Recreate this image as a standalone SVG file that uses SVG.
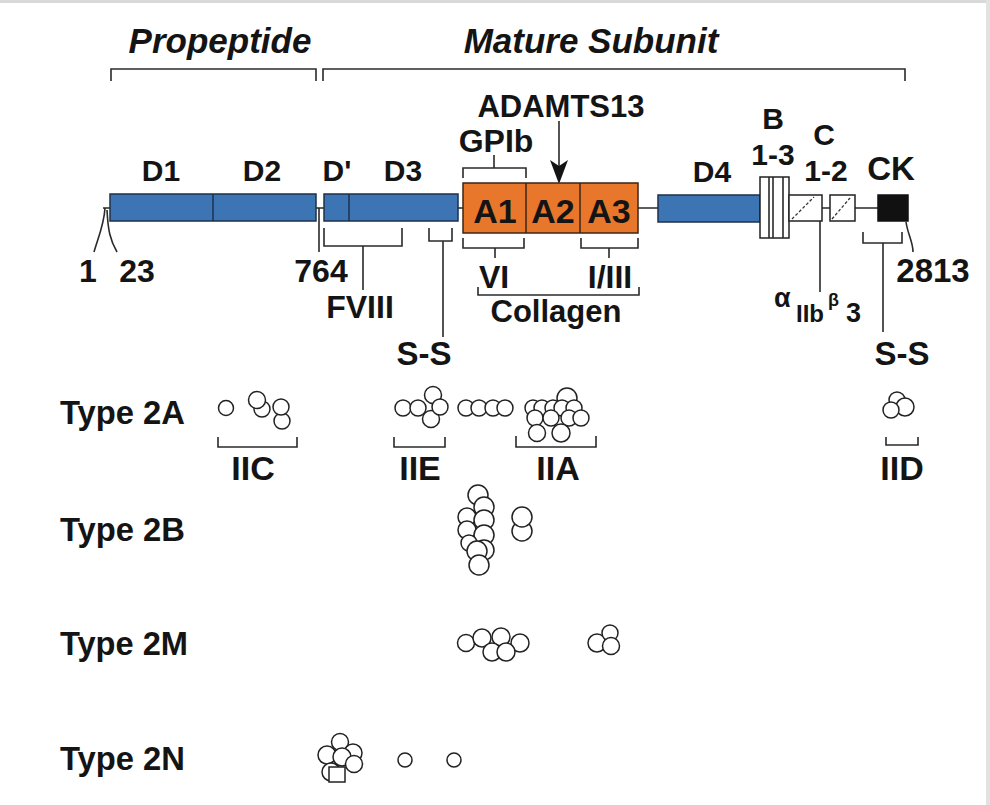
<svg xmlns="http://www.w3.org/2000/svg" width="990" height="805" viewBox="0 0 990 805">
<style>
text{font-family:"Liberation Sans",Arial,sans-serif;font-weight:bold;fill:#141414}
.m{text-anchor:middle}
.ln{stroke:#2a2a2a;stroke-width:1.6;fill:none}
.bar{fill:#3d74b4;stroke:#1e3148;stroke-width:1.5}
.a{fill:#e8772b;stroke:#3b2616;stroke-width:1.5}
.wb{fill:#fff;stroke:#222;stroke-width:1.5}
.c{fill:#fff;stroke:#222;stroke-width:1.5}
</style>
<rect x="0" y="0" width="990" height="805" fill="#fff"/>
<rect x="0" y="0" width="990" height="3" fill="#d9d9d9"/>
<rect x="986" y="0" width="4" height="805" fill="#e2e2e2"/>

<g id="headers">
<text x="220" y="53" class="m" font-size="35" font-style="italic">Propeptide</text>
<text x="591" y="53" class="m" font-size="35" font-style="italic">Mature Subunit</text>
</g>

<g id="connectors">
<path class="ln" d="M111,81 V69 H316 V81"/>
<path class="ln" d="M323,81 V69 H905 V81"/>
<path class="ln" d="M103,208 H110 M316,208 H324 M458,208 H463 M638,208 H658 M822,208 H830 M855,208 H878"/>
<path class="ln" d="M105,208 C104,225 98,238 94,252"/>
<path class="ln" d="M107,210 C108,230 110,240 117,252"/>
<path class="ln" d="M319,208 V252"/>
<path class="ln" d="M324,228 V246 H402 V228 M363,246 V290"/>
<path class="ln" d="M429,228 V241 H452 V228 M443,241 V337"/>
<path class="ln" d="M463,178 V168 H526 V178 M494,168 V155"/>
<path class="ln" d="M463,238 V248 H524 V238 M495,248 V258"/>
<path class="ln" d="M581,238 V248 H638 V238 M609,248 V258"/>
<path class="ln" d="M478,287 V295 H639 V287"/>
<path class="ln" d="M559,121 V166" stroke-width="2"/>
<polygon points="550,160 559,166 568,160 559,184" fill="#141414"/>
<path class="ln" d="M820,221 V292"/>
<path class="ln" d="M863,232 V243 H902 V232 M883,243 V332"/>
<path class="ln" d="M906,222 C908,235 913,242 913,252"/>
<path class="ln" d="M218,437 V447 H297 V437"/>
<path class="ln" d="M394,437 V447 H445 V437"/>
<path class="ln" d="M516,436 V447 H596 V436"/>
<path class="ln" d="M886,437 V445 H918 V437"/>
</g>

<g id="domain-D1-D2">
<rect class="bar" x="110" y="194" width="206" height="27"/>
<line x1="213" y1="194" x2="213" y2="221" stroke="#1e3148" stroke-width="1.5"/>
<text x="161" y="181" class="m" font-size="30">D1</text>
<text x="262" y="181" class="m" font-size="30">D2</text>
</g>
<g id="domain-D-D3">
<rect class="bar" x="324" y="194" width="134" height="27"/>
<line x1="349" y1="194" x2="349" y2="221" stroke="#1e3148" stroke-width="1.5"/>
<text x="337" y="181" class="m" font-size="30">D'</text>
<text x="403" y="181" class="m" font-size="30">D3</text>
</g>
<g id="domain-A">
<rect class="a" x="463" y="183" width="175" height="50"/>
<line x1="526" y1="183" x2="526" y2="233" stroke="#3b2616" stroke-width="1.5"/>
<line x1="580" y1="183" x2="580" y2="233" stroke="#3b2616" stroke-width="1.5"/>
<text x="495" y="223" class="m" font-size="34" fill="#1e120a">A1</text>
<text x="553" y="223" class="m" font-size="34" fill="#1e120a">A2</text>
<text x="609" y="223" class="m" font-size="34" fill="#1e120a">A3</text>
</g>
<g id="domain-D4">
<rect class="bar" x="658" y="195" width="102" height="27"/>
<text x="712" y="182" class="m" font-size="30">D4</text>
</g>
<g id="domain-B">
<rect class="wb" x="760" y="177" width="29" height="61"/>
<path class="ln" d="M769,177 V238 M773,177 V238 M783,177 V238"/>
<text x="773" y="129" class="m" font-size="30">B</text>
<text x="773" y="165" class="m" font-size="30">1-3</text>
</g>
<g id="domain-C">
<rect class="wb" x="789" y="195" width="33" height="26"/>
<line x1="792" y1="219" x2="814" y2="197" stroke="#333" stroke-width="1.3" stroke-dasharray="3,2"/>
<rect class="wb" x="830" y="195" width="25" height="26"/>
<line x1="832" y1="219" x2="850" y2="198" stroke="#333" stroke-width="1.3" stroke-dasharray="3,2"/>
<text x="824" y="145" class="m" font-size="30">C</text>
<text x="826" y="181" class="m" font-size="30">1-2</text>
</g>
<g id="domain-CK">
<rect x="878" y="195" width="30" height="26" fill="#111" stroke="#111" stroke-width="1.5"/>
<text x="891" y="180" class="m" font-size="33">CK</text>
</g>

<g id="binding-labels">
<text x="561" y="117" class="m" font-size="31">ADAMTS13</text>
<text x="496" y="152" class="m" font-size="32">GPIb</text>
<text x="88" y="282" class="m" font-size="32">1</text>
<text x="137" y="282" class="m" font-size="32">23</text>
<text x="321" y="282" class="m" font-size="32">764</text>
<text x="933" y="282" class="m" font-size="33">2813</text>
<text x="360" y="318" class="m" font-size="32">FVIII</text>
<text x="494" y="288" class="m" font-size="32">VI</text>
<text x="610" y="288" class="m" font-size="32">I/III</text>
<text x="556" y="322" class="m" font-size="31">Collagen</text>
<text x="424" y="365" class="m" font-size="33">S-S</text>
<text x="902" y="365" class="m" font-size="33">S-S</text>
<text x="774" y="307" font-size="27">α</text>
<text x="796" y="322" font-size="24">IIb</text>
<text x="828" y="306" font-size="18">β</text>
<text x="846" y="322" font-size="27">3</text>
</g>

<g id="type-labels">
<text x="60" y="424" font-size="34" textLength="125" lengthAdjust="spacingAndGlyphs">Type 2A</text>
<text x="60" y="541" font-size="34" textLength="125" lengthAdjust="spacingAndGlyphs">Type 2B</text>
<text x="60" y="655" font-size="34" textLength="128" lengthAdjust="spacingAndGlyphs">Type 2M</text>
<text x="60" y="770" font-size="34" textLength="125" lengthAdjust="spacingAndGlyphs">Type 2N</text>
</g>

<g id="type2A-IIC">
<circle class="c" cx="226" cy="408" r="7.5"/>
<circle class="c" cx="262" cy="409" r="8"/>
<circle class="c" cx="257" cy="400" r="8.5"/>
<circle class="c" cx="282" cy="421" r="8"/>
<circle class="c" cx="281" cy="407" r="8"/>
<text x="253" y="480" class="m" font-size="34">IIC</text>
</g>
<g id="type2A-IIE">
<circle class="c" cx="403" cy="408" r="8"/>
<circle class="c" cx="418" cy="408" r="8"/>
<circle class="c" cx="433" cy="395" r="8.5"/>
<circle class="c" cx="431" cy="419" r="8.5"/>
<circle class="c" cx="440" cy="407" r="8"/>
<text x="420" y="480" class="m" font-size="34">IIE</text>
</g>
<g id="type2A-mid">
<circle class="c" cx="466" cy="408" r="8"/>
<circle class="c" cx="479" cy="408" r="8"/>
<circle class="c" cx="493" cy="408" r="8"/>
<circle class="c" cx="505" cy="408" r="8"/>
</g>
<g id="type2A-IIA">
<circle class="c" cx="567" cy="398" r="10"/>
<circle class="c" cx="533" cy="408" r="8"/>
<circle class="c" cx="542" cy="408" r="8"/>
<circle class="c" cx="553" cy="408" r="8"/>
<circle class="c" cx="562" cy="408" r="8"/>
<circle class="c" cx="574" cy="408" r="8"/>
<circle class="c" cx="535" cy="418" r="8"/>
<circle class="c" cx="551" cy="418" r="8"/>
<circle class="c" cx="569" cy="418" r="8"/>
<circle class="c" cx="581" cy="418" r="8"/>
<circle class="c" cx="537" cy="433" r="8.5"/>
<circle class="c" cx="561" cy="433" r="9"/>
<text x="558" y="480" class="m" font-size="34">IIA</text>
</g>
<g id="type2A-IID">
<circle class="c" cx="897" cy="400" r="8"/>
<circle class="c" cx="905" cy="407" r="9"/>
<circle class="c" cx="891" cy="410" r="8"/>
<text x="902" y="480" class="m" font-size="34">IID</text>
</g>

<g id="type2B">
<circle class="c" cx="478" cy="495" r="10"/>
<circle class="c" cx="484" cy="507" r="10"/>
<circle class="c" cx="467" cy="517" r="9"/>
<circle class="c" cx="484" cy="520" r="10"/>
<circle class="c" cx="467" cy="530" r="9"/>
<circle class="c" cx="484" cy="535" r="10"/>
<circle class="c" cx="469" cy="543" r="8"/>
<circle class="c" cx="484" cy="550" r="10"/>
<circle class="c" cx="477" cy="551" r="10"/>
<circle class="c" cx="479" cy="565" r="10"/>
<circle class="c" cx="522" cy="531" r="10"/>
<circle class="c" cx="522" cy="517" r="10"/>
</g>

<g id="type2M">
<circle class="c" cx="466" cy="643" r="8.5"/>
<circle class="c" cx="482" cy="638" r="9"/>
<circle class="c" cx="520" cy="643" r="9"/>
<circle class="c" cx="501" cy="637" r="9"/>
<circle class="c" cx="492" cy="652" r="9"/>
<circle class="c" cx="506" cy="652" r="9"/>
<circle class="c" cx="597" cy="643" r="9"/>
<circle class="c" cx="610" cy="633" r="8"/>
<circle class="c" cx="611" cy="646" r="8.5"/>
</g>

<g id="type2N">
<circle class="c" cx="340" cy="742" r="8.5"/>
<circle class="c" cx="327" cy="755" r="9"/>
<circle class="c" cx="353" cy="753" r="9"/>
<circle class="c" cx="342" cy="757" r="9"/>
<circle class="c" cx="354" cy="764" r="8.5"/>
<circle class="c" cx="331" cy="772" r="9"/>
<rect class="c" x="329" y="767" width="16" height="15"/>
<circle class="c" cx="405" cy="760" r="7"/>
<circle class="c" cx="454" cy="760" r="7"/>
</g>
</svg>
